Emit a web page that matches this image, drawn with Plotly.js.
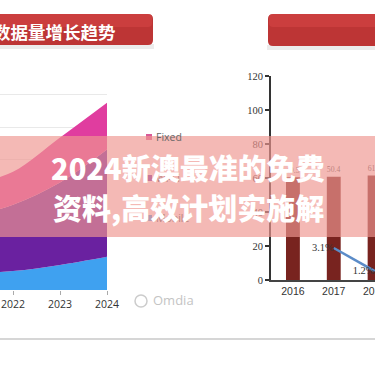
<!DOCTYPE html>
<html>
<head>
<meta charset="utf-8">
<script src="https://cdn.plot.ly/plotly-3.0.1.min.js"></script>
<style>html,body{margin:0;padding:0;background:#fff;}#chart{width:375px;height:375px;}</style>
</head>
<body>
<div id="chart"></div>
<script>
// ---- Left chart data (stacked areas) ----
const areaYears = [2021, 2022, 2023, 2024];
const mobileValues = [0.50, 0.58, 0.77, 1.02];
const wifiValues = [1.70, 2.04, 2.53, 3.29];
const fixedValues = [1.00, 1.01, 1.38, 1.44];
const areaNames = ['Mobile', 'Wi-Fi', 'Fixed'];
const areaTicks = [2022, 2023, 2024];

// ---- Right chart data (bars + growth line) ----
const barYears = [2016, 2017, 2018];
const barValues = [60.5, 60.8, 61.5];
const barLabels = ['49.5', '50.4', '61.6'];
const rateYears = [2017, 2018];
const rateValues = [3.1, 1.2];
const rateLabels = ['3.1%', '1.2%'];

// ---- Texts ----
const leftTitle = '数据量增长趋势';
const overlayLine1 = '2024新澳最准的免费';
const overlayLine2 = '资料,高效计划实施解';
const sourceText = 'Omdia';

const W = 375, H = 375;
const X = p => p / W;
const Y = p => 1 - p / H;

function roundRectPath(x0, y0, x1, y1, rl, rr) {
  // pixel coords, rounded corners: rl on left side, rr on right side
  const pts = [];
  pts.push('M' + X(x0 + rl) + ',' + Y(y0));
  pts.push('L' + X(x1 - rr) + ',' + Y(y0));
  if (rr) pts.push('Q' + X(x1) + ',' + Y(y0) + ' ' + X(x1) + ',' + Y(y0 + rr));
  pts.push('L' + X(x1) + ',' + Y(y1 - rr));
  if (rr) pts.push('Q' + X(x1) + ',' + Y(y1) + ' ' + X(x1 - rr) + ',' + Y(y1));
  pts.push('L' + X(x0 + rl) + ',' + Y(y1));
  if (rl) pts.push('Q' + X(x0) + ',' + Y(y1) + ' ' + X(x0) + ',' + Y(y1 - rl));
  pts.push('L' + X(x0) + ',' + Y(y0 + rl));
  if (rl) pts.push('Q' + X(x0) + ',' + Y(y0) + ' ' + X(x0 + rl) + ',' + Y(y0));
  pts.push('Z');
  return pts.join(' ');
}

const areaColors = ['#3fa1f0', '#6a21a0', '#e03d9f'];
const areaSeries = [mobileValues, wifiValues, fixedValues];

const traces = areaSeries.map((vals, i) => ({
  type: 'scatter', x: areaYears, y: vals, name: areaNames[i],
  stackgroup: 'a', mode: 'lines',
  line: {width: 0, shape: 'spline', color: areaColors[i]},
  fillcolor: areaColors[i],
  xaxis: 'x', yaxis: 'y', hoverinfo: 'skip', showlegend: false
}));

traces.push({
  type: 'bar', x: barYears, y: barValues, width: 0.34,
  marker: {color: '#78231f'},
  text: barLabels, textposition: 'outside', cliponaxis: false,
  textfont: {family: 'Liberation Serif', size: 11, color: '#555'},
  xaxis: 'x2', yaxis: 'y2', showlegend: false, hoverinfo: 'skip'
});

traces.push({
  type: 'scatter', x: rateYears, y: rateValues, mode: 'lines+text',
  line: {color: '#5b8cc8', width: 2.5},
  text: rateLabels, textposition: 'middle left', cliponaxis: false,
  textfont: {family: 'Liberation Serif', size: 10.5, color: '#333'},
  xaxis: 'x2', yaxis: 'y3', showlegend: false, hoverinfo: 'skip'
});

const legendRows = [
  {name: 'Fixed', y: 137, color: '#d95a98', text: '#666'},
  {name: 'Wi-Fi', y: 178, color: '#7a35a8', text: '#b9827f'},
  {name: 'Mobile', y: 218, color: '#4a9ee8', text: '#b9827f'}
];

const shapes = [];
// title shadows
shapes.push({type: 'rect', xref: 'paper', yref: 'paper', x0: X(-5), x1: X(154), y0: Y(49), y1: Y(44), fillcolor: '#ececec', line: {width: 0}, layer: 'below'});
shapes.push({type: 'rect', xref: 'paper', yref: 'paper', x0: X(267), x1: X(380), y0: Y(50), y1: Y(45), fillcolor: '#ececec', line: {width: 0}, layer: 'below'});
// title bars
shapes.push({type: 'path', xref: 'paper', yref: 'paper', path: roundRectPath(-8, 14, 153, 45, 0, 5), fillcolor: '#bd3535', line: {width: 0}, layer: 'below'});
shapes.push({type: 'path', xref: 'paper', yref: 'paper', path: roundRectPath(-8, 14, 152, 27, 0, 4), fillcolor: 'rgba(230,80,80,0.35)', line: {width: 0}, layer: 'below'});
shapes.push({type: 'path', xref: 'paper', yref: 'paper', path: roundRectPath(268, 14, 385, 46, 5, 0), fillcolor: '#bd3535', line: {width: 0}, layer: 'below'});
shapes.push({type: 'path', xref: 'paper', yref: 'paper', path: roundRectPath(269, 14, 385, 27, 4, 0), fillcolor: 'rgba(230,80,80,0.35)', line: {width: 0}, layer: 'below'});
// legend markers
legendRows.forEach(r => {
  shapes.push({type: 'rect', xref: 'paper', yref: 'paper', x0: X(146), x1: X(152), y0: Y(r.y + 3), y1: Y(r.y - 3), fillcolor: r.color, line: {width: 0}, layer: 'above'});
});
// Omdia logo
shapes.push({type: 'circle', xref: 'paper', yref: 'paper', x0: X(135), x1: X(147), y0: Y(307), y1: Y(295), line: {color: '#cccccc', width: 1.5}, layer: 'above'});
// footer line
shapes.push({type: 'line', xref: 'paper', yref: 'paper', x0: 0, x1: 1, y0: Y(339), y1: Y(339), line: {color: '#c8c8c8', width: 1.5}, layer: 'above'});
// translucent overlay band
shapes.push({type: 'rect', xref: 'paper', yref: 'paper', x0: 0, x1: 1, y0: Y(237), y1: Y(136), fillcolor: 'rgba(239,151,145,0.67)', line: {width: 0}, layer: 'above'});

const annotations = [];
annotations.push({xref: 'paper', yref: 'paper', x: X(-9.5), y: Y(31), xanchor: 'left', yanchor: 'middle', showarrow: false,
  text: '<b>' + leftTitle + '</b>', font: {family: 'Noto Sans CJK SC', size: 17.5, color: '#ffffff'}});
legendRows.forEach(r => {
  annotations.push({xref: 'paper', yref: 'paper', x: X(154), y: Y(r.y), xanchor: 'left', yanchor: 'middle', showarrow: false,
    text: r.name, font: {family: 'Open Sans', size: 10.5, color: r.text}});
});
annotations.push({xref: 'paper', yref: 'paper', x: X(151), y: Y(300), xanchor: 'left', yanchor: 'middle', showarrow: false,
  text: sourceText, font: {family: 'Open Sans', size: 13, color: '#c4c4c4'}});
annotations.push({xref: 'paper', yref: 'paper', x: X(187.5), y: Y(167), xanchor: 'center', yanchor: 'middle', showarrow: false,
  text: overlayLine1, font: {family: 'Noto Sans CJK SC', size: 29, color: '#ffffff', weight: 900}});
annotations.push({xref: 'paper', yref: 'paper', x: X(188), y: Y(207), xanchor: 'center', yanchor: 'middle', showarrow: false,
  text: overlayLine2, font: {family: 'Noto Sans CJK SC', size: 29, color: '#ffffff', weight: 900}});

const layout = {
  width: W, height: H,
  margin: {l: 0, r: 0, t: 0, b: 0, pad: 0},
  paper_bgcolor: '#ffffff', plot_bgcolor: 'rgba(0,0,0,0)',
  showlegend: false,
  xaxis: {domain: [0, X(107)], range: [2021.723, 2024], tickvals: areaTicks, ticktext: areaTicks.map(String),
    ticks: 'outside', ticklen: 4, tickcolor: '#aaaaaa', showline: false, showgrid: false, zeroline: false,
    tickfont: {family: 'Open Sans', size: 10.5, color: '#333'}, ticklabeloverflow: 'allow', fixedrange: true, anchor: 'y'},
  yaxis: {domain: [Y(290), Y(62)], range: [0, 7], dtick: 1, showticklabels: false, showgrid: true, gridcolor: '#e9e9e9',
    zeroline: false, showline: false, ticks: '', fixedrange: true, anchor: 'x'},
  xaxis2: {domain: [X(271), 1], range: [2015.463, 2018.01], tickvals: barYears, ticktext: barYears.map(String),
    ticks: '', showline: true, linecolor: '#444', linewidth: 2, showgrid: false, zeroline: false,
    tickfont: {family: 'Liberation Sans', size: 10.5, color: '#333'}, ticklabeloverflow: 'allow', anchor: 'y2', fixedrange: true},
  yaxis2: {domain: [Y(280), Y(76)], range: [0, 120], dtick: 20, ticks: 'outside', ticklen: 4, tickwidth: 1.5, tickcolor: '#333',
    showline: true, linecolor: '#333', linewidth: 2, showgrid: false, zeroline: false,
    tickfont: {family: 'Liberation Serif', size: 10.5, color: '#333'}, anchor: 'x2', fixedrange: true},
  yaxis3: {overlaying: 'y2', side: 'right', range: [0.46, 17.3], visible: false, anchor: 'x2', fixedrange: true},
  shapes: shapes,
  annotations: annotations
};

Plotly.newPlot('chart', traces, layout, {staticPlot: true, displayModeBar: false});
</script>
</body>
</html>
